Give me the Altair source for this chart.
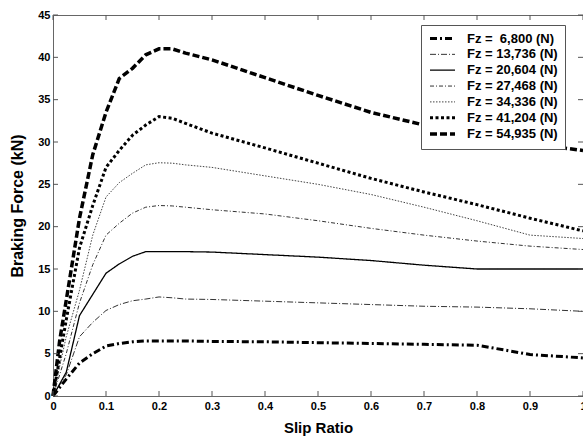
import altair as alt
import pandas as pd

# ---- data ----
slip = [0, 0.0125, 0.025, 0.05, 0.075, 0.1, 0.125, 0.15, 0.175, 0.2, 0.225, 0.25,
        0.3, 0.4, 0.5, 0.6, 0.7, 0.8, 0.9, 1.0]

fz_6800 = [0, 1.0, 2.0, 3.9, 5.0, 5.9, 6.2, 6.4, 6.5, 6.5, 6.5, 6.5,
           6.45, 6.4, 6.3, 6.2, 6.1, 6.0, 4.9, 4.5]
fz_13736 = [0, 1.3, 2.5, 7.0, 8.7, 10.1, 10.8, 11.25, 11.45, 11.7, 11.6, 11.45,
            11.4, 11.2, 11.0, 10.8, 10.6, 10.5, 10.3, 10.0]
fz_20604 = [0, 1.4, 2.8, 9.5, 12.0, 14.5, 15.6, 16.5, 17.05, 17.05, 17.05, 17.05,
            17.0, 16.7, 16.4, 16.0, 15.45, 15.0, 15.0, 15.0]
fz_27468 = [0, 2.5, 5.0, 11.0, 15.5, 19.0, 20.4, 21.6, 22.3, 22.5, 22.45, 22.3,
            22.0, 21.5, 20.7, 19.8, 19.0, 18.3, 17.7, 17.3]
fz_34336 = [0, 3.5, 7.0, 12.5, 19.0, 23.5, 25.2, 26.3, 27.3, 27.55, 27.5, 27.3,
            27.0, 26.0, 25.0, 23.8, 22.3, 20.7, 19.0, 18.6]
fz_41204 = [0, 4.5, 9.0, 17.5, 22.5, 27.0, 29.0, 30.8, 32.0, 33.0, 32.8, 32.2,
            31.05, 29.3, 27.5, 25.7, 24.1, 22.6, 21.0, 19.5]
fz_54935 = [0, 6.5, 11.3, 21.0, 28.5, 33.5, 37.5, 38.7, 40.3, 41.0, 41.0, 40.5,
            39.7, 37.6, 35.5, 33.5, 32.0, 30.7, 29.8, 29.0]

labels = ["Fz =\u00a0 6,800 (N)", "Fz = 13,736 (N)", "Fz = 20,604 (N)",
          "Fz = 27,468 (N)", "Fz = 34,336 (N)", "Fz = 41,204 (N)", "Fz = 54,935 (N)"]
series_values = [fz_6800, fz_13736, fz_20604, fz_27468, fz_34336, fz_41204, fz_54935]

x_ticks = [0, 0.1, 0.2, 0.3, 0.4, 0.5, 0.6, 0.7, 0.8, 0.9, 1]
y_ticks = [0, 5, 10, 15, 20, 25, 30, 35, 40, 45]

# ---- styles ----
dashes = [[7, 3, 2, 3], [6, 2, 1, 2], [1, 0], [4, 2, 1, 2], [1.5, 1.5], [3, 2.5], [7, 3]]
widths = [3, 1, 1.3, 1, 1, 3, 3.5]
line_colors = ["#000000", "#333333", "#000000", "#333333", "#444444", "#000000", "#000000"]
FONT = "Liberation Sans"
W, H = 530, 381

rows = []
for lab, ys in zip(labels, series_values):
    for s, f in zip(slip, ys):
        rows.append({"slip": s, "force": f, "series": lab})
df = pd.DataFrame(rows)

xscale = alt.Scale(domain=[0, 1], nice=False, zero=False)
yscale = alt.Scale(domain=[0, 45], nice=False)
xaxis = alt.Axis(values=x_ticks, format="~g", title="Slip Ratio", ticks=False, tickSize=0,
                 domain=False, grid=False, labelPadding=4, titlePadding=9,
                 labelFlush=False, labelOverlap=False)
yaxis = alt.Axis(values=y_ticks, title="Braking Force (kN)", ticks=False, tickSize=0,
                 domain=False, grid=False, labelPadding=3, titlePadding=12,
                 labelFlush=False, labelOverlap=False)

legend = alt.Legend(title=None, orient="none", legendX=368, legendY=10,
                    fillColor="white", strokeColor="#555", padding=7,
                    labelFont=FONT, labelFontSize=13, labelFontWeight="bold",
                    labelColor="black", symbolType="M-1,0H4", symbolSize=100,
                    labelOffset=25, rowPadding=1.85,
                    labelLimit=300)

lines = alt.Chart(df).mark_line(strokeCap="butt").encode(
    x=alt.X("slip:Q", scale=xscale, axis=xaxis),
    y=alt.Y("force:Q", scale=yscale, axis=yaxis),
    color=alt.Color("series:N", scale=alt.Scale(domain=labels, range=line_colors), legend=legend),
    strokeDash=alt.StrokeDash("series:N", scale=alt.Scale(domain=labels, range=dashes), legend=legend),
    strokeWidth=alt.StrokeWidth("series:N", scale=alt.Scale(type="ordinal", domain=labels, range=widths), legend=legend),
)

xt = pd.DataFrame({"slip": x_ticks})
yt = pd.DataFrame({"force": y_ticks})
tick_color = "#555"
bottom_ticks = alt.Chart(xt).mark_rule(color=tick_color).encode(
    x=alt.X("slip:Q", scale=xscale, axis=xaxis), y=alt.value(H), y2=alt.value(H - 5))
top_ticks = alt.Chart(xt).mark_rule(color=tick_color).encode(
    x=alt.X("slip:Q", scale=xscale, axis=xaxis), y=alt.value(0), y2=alt.value(5))
left_ticks = alt.Chart(yt).mark_rule(color=tick_color).encode(
    y=alt.Y("force:Q", scale=yscale, axis=yaxis), x=alt.value(0), x2=alt.value(5))
right_ticks = alt.Chart(yt).mark_rule(color=tick_color).encode(
    y=alt.Y("force:Q", scale=yscale, axis=yaxis), x=alt.value(W), x2=alt.value(W - 5))

chart = alt.layer(lines, bottom_ticks, top_ticks, left_ticks, right_ticks).properties(
    width=W, height=H,
    autosize=alt.AutoSizeParams(type="none"),
    padding={"left": 53, "top": 15, "right": 0, "bottom": 40},
    background="white",
).configure_view(
    stroke="#666", strokeWidth=1
).configure_axis(
    labelFont=FONT, labelFontSize=11, labelFontWeight="bold", labelColor="black",
    titleFont=FONT, titleFontSize=15, titleFontWeight="bold", titleColor="black",
).configure_axisY(titleFontSize=16)

chart.save("out.html", embed_options={"renderer": "svg", "actions": False})
